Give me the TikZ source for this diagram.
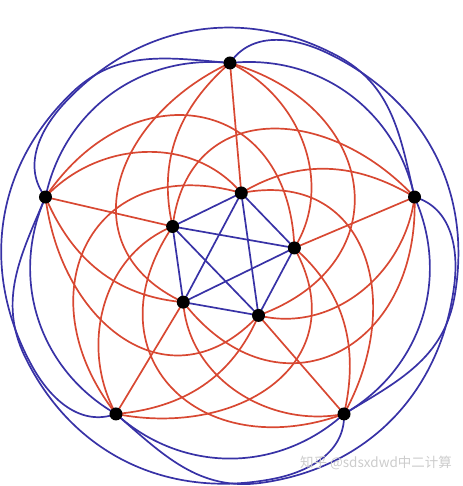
\documentclass[tikz,border=0pt]{standalone}
\usepackage{fontspec}
\newfontfamily\cjkfont{Noto Sans CJK SC}
\definecolor{edgered}{RGB}{216,72,50}
\definecolor{edgeblue}{RGB}{56,50,166}

\begin{document}
\begin{tikzpicture}[x=1pt, y=1pt,
    vertex/.style={circle, fill=black, inner sep=0pt, minimum size=13pt},
    rededge/.style={edgered, line width=1.7pt},
    blueedge/.style={edgeblue, line width=1.7pt}]
  \useasboundingbox (-230,-229) rectangle (232,257);
  \foreach \k in {0,...,4} {
    \coordinate (O\k) at ({90+72*\k}:194);
    \coordinate (I\k) at ({80+72*\k}:65);
  }
  % outer-inner edges
  \foreach \k in {0,...,4} {
    \pgfmathsetmacro{\a}{90+72*\k}
    \pgfmathtruncatemacro{\ka}{mod(\k+1,5)}
    \pgfmathtruncatemacro{\kb}{mod(\k+2,5)}
    \pgfmathtruncatemacro{\kc}{mod(\k+3,5)}
    \pgfmathtruncatemacro{\kd}{mod(\k+4,5)}
    \pgfmathsetmacro{\oa}{\a+131}\pgfmathsetmacro{\ia}{\a+13}
    \pgfmathsetmacro{\ob}{\a+115}\pgfmathsetmacro{\ib}{\a+65}
    \pgfmathsetmacro{\oc}{\a+254}\pgfmathsetmacro{\ic}{\a-70}
    \pgfmathsetmacro{\od}{\a+245}\pgfmathsetmacro{\id}{\a-32}
    \draw[rededge] (O\k) -- (I\k);
    \draw[rededge] (O\k) to[out=\oa, in=\ia] (I\ka);
    \draw[rededge] (O\k) to[out=\ob, in=\ib, looseness=1.35] (I\kb);
    \draw[rededge] (O\k) to[out=\oc, in=\ic, looseness=1.55] (I\kc);
    \draw[rededge] (O\k) to[out=\od, in=\id] (I\kd);
  }
  % outer K5
  \foreach \k in {0,...,4} {
    \pgfmathsetmacro{\a}{90+72*\k}
    \pgfmathtruncatemacro{\ka}{mod(\k+1,5)}
    \pgfmathtruncatemacro{\kc}{mod(\k+3,5)}
    \pgfmathsetmacro{\sa}{\a+84}\pgfmathsetmacro{\sb}{\a-12}
    \pgfmathsetmacro{\pa}{\a-25}\pgfmathsetmacro{\pb}{\a-100}
    \pgfmathsetmacro{\la}{\a-34}\pgfmathsetmacro{\lb}{\a+65}
    \pgfmathsetmacro{\lc}{\a-115}\pgfmathsetmacro{\ld}{\a-10}
    \pgfmathsetmacro{\le}{\a-190}\pgfmathsetmacro{\lf}{\a-59}
    \coordinate (P\k) at (\pa:226);
    \coordinate (Q\k) at (\pb:228);
    \draw[blueedge] (O\k) to[out=\sa, in=\sb] (O\ka);
    \draw[blueedge] (O\k) to[out=\la, in=\lb] (P\k)
      to[out=\lc, in=\ld] (Q\k) to[out=\le, in=\lf] (O\kc);
  }
  % inner K5
  \foreach \i/\j in {0/1,1/2,2/3,3/4,4/0,0/2,1/3,2/4,3/0,4/1}
    \draw[blueedge] (I\i) -- (I\j);
  \foreach \k in {0,...,4} {
    \node[vertex] (vo\k) at (O\k) {};
    \node[vertex] (vi\k) at (I\k) {};
  }
  \node[gray!40, font=\cjkfont\fontsize{13.5}{14}\selectfont] (mark) at (146,-206) {知乎 @sdsxdwd中二计算};
\end{tikzpicture}
\end{document}
